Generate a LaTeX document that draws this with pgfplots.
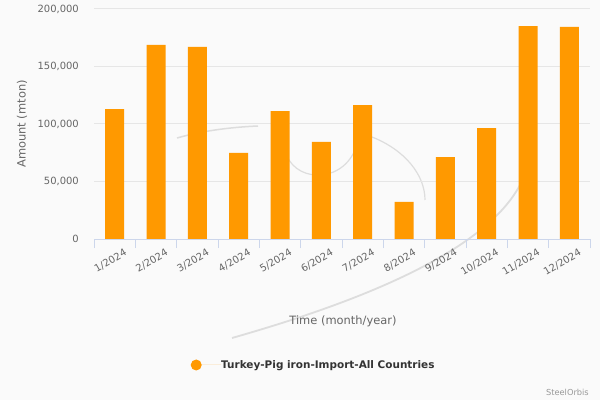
\documentclass[border=0pt]{standalone}
\usepackage{pgfplots}
\pgfplotsset{compat=1.18}
\usepackage{fontspec}
\setmainfont{DejaVu Sans}
\definecolor{barC}{HTML}{FF9900}
\definecolor{gridC}{HTML}{E6E6E6}
\definecolor{axisC}{HTML}{CCD6EB}
\definecolor{labC}{HTML}{666666}
\definecolor{legC}{HTML}{333333}
\definecolor{bgC}{HTML}{FAFAFA}
\definecolor{wmC}{HTML}{DDDDDD}
\definecolor{credC}{HTML}{999999}
\begin{document}
\begin{tikzpicture}
\fill[bgC] (0bp,0bp) rectangle (600bp,400bp);
% faint watermark swoosh (decoration)
\begin{scope}[x=1bp,y=1bp]
\draw[wmC, line width=1.5bp] (177,262) .. controls (205,270) and (235,273) .. (258,274);
\draw[wmC, line width=1.2bp] (285,250) .. controls (292,218) and (340,215) .. (355,250);
\draw[wmC, line width=1.2bp] (372,263) .. controls (405,250) and (425,225) .. (425,200);
\draw[wmC, line width=1.8bp] (232,62) .. controls (330,90) and (480,140) .. (520,215);
\end{scope}
\begin{axis}[
  at={(94bp,161bp)}, anchor=south west,
  scale only axis, width=496bp, height=230bp,
  ybar, bar width=19bp,
  xmin=-0.5, xmax=11.5, ymin=0, ymax=200000,
  xtick={0,1,2,3,4,5,6,7,8,9,10,11},
  xticklabels={1/2024,2/2024,3/2024,4/2024,5/2024,6/2024,7/2024,8/2024,9/2024,10/2024,11/2024,12/2024},
  minor xtick={-0.5,0.5,1.5,2.5,3.5,4.5,5.5,6.5,7.5,8.5,9.5,10.5,11.5},
  ytick={0,50000,100000,150000,200000},
  scaled y ticks=false,
  yticklabel style={/pgf/number format/fixed, /pgf/number format/1000 sep={,}},
  /pgf/number format/assume math mode=true,
  tick label style={font=\fontsize{10}{12}\selectfont, text=labC},
  x tick label style={xshift=9bp, yshift=-9bp, rotate=30, anchor=north east, inner sep=0pt},
  y tick label style={xshift=-15bp, anchor=east, inner sep=0pt},
  axis x line*=bottom, axis y line*=left,
  x axis line style={draw=axisC, line width=1bp, -},
  y axis line style={draw=none},
  ymajorgrids, major grid style={draw=gridC, line width=1bp},
  major tick length=0pt,
  minor tick length=9bp, tick align=outside,
  minor tick style={draw=axisC, line width=1bp},
  xlabel={Time (month/year)},
  ylabel={Amount (mton)},
  xlabel style={at={(axis description cs:0.502,-0.3565)}, anchor=center, font=\fontsize{11.5}{14}\selectfont, text=labC},
  ylabel style={at={(axis description cs:-0.1452,0.5)}, anchor=center, font=\fontsize{11.5}{14}\selectfont, text=labC},
  legend style={at={(axis description cs:0.1946,-0.5478)}, anchor=west, draw=none, fill=none, inner sep=0pt,
    font=\bfseries\fontsize{10.5}{12}\selectfont, text=legC, nodes={inner sep=0pt}},
  legend cell align=left,
  legend image code/.code={\fill[barC] (5.5bp,0bp) circle (5.5bp); \path (0bp,0bp) -- (30.5bp,0bp);},
]
\addplot[fill=barC, draw=none] coordinates {
(0,113000) (1,168700) (2,167000) (3,74800) (4,111300) (5,84400)
(6,116500) (7,32200) (8,71300) (9,96500) (10,185200) (11,184400)};
\addlegendentry{Turkey-Pig iron-Import-All Countries}
\end{axis}
\node[anchor=east, inner sep=0pt, font=\fontsize{8.3}{10}\selectfont, text=credC] at (589bp,8bp) {SteelOrbis};
\pgfresetboundingbox
\useasboundingbox (0bp,0bp) rectangle (600bp,400bp);
\end{tikzpicture}
\end{document}
